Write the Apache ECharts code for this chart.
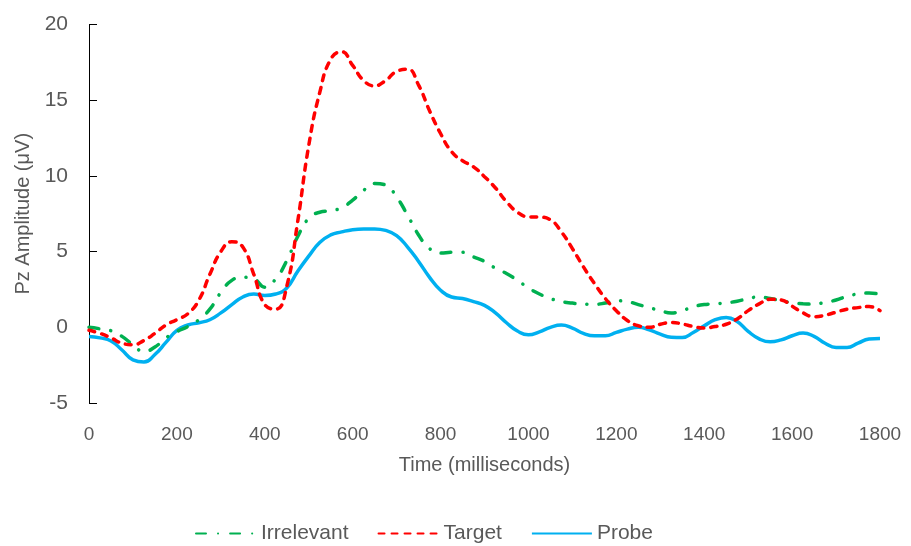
<!DOCTYPE html>
<html>
<head>
<meta charset="utf-8">
<script src="https://cdn.jsdelivr.net/npm/echarts@6/dist/echarts.min.js"></script>
<style>html,body{margin:0;padding:0;background:#fff;}#c{width:911px;height:546px;}</style>
</head>
<body>
<div id="c"></div>
<script>
// Time points (ms), every 25 ms from 0 to 1800
var timesMs = [0,25,50,75,100,125,150,175,200,225,250,275,300,325,350,375,400,425,450,475,500,525,550,575,600,625,650,675,700,725,750,775,800,825,850,875,900,925,950,975,1000,1025,1050,1075,1100,1125,1150,1175,1200,1225,1250,1275,1300,1325,1350,1375,1400,1425,1450,1475,1500,1525,1550,1575,1600,1625,1650,1675,1700,1725,1750,1775,1800];

var irrelevant = [0.0,-0.1,-0.23,-0.6,-1.15,-1.6,-1.3,-0.7,-0.28,0.05,0.5,1.2,2.3,3.1,3.3,3.2,2.65,3.2,4.4,6.0,7.2,7.6,7.7,7.9,8.4,9.05,9.5,9.4,8.6,7.4,6.1,5.2,4.9,4.95,4.95,4.65,4.35,3.9,3.55,3.1,2.6,2.2,1.9,1.7,1.6,1.53,1.52,1.6,1.75,1.7,1.5,1.3,1.1,0.95,1.1,1.35,1.5,1.55,1.62,1.72,1.9,2.0,1.9,1.75,1.62,1.55,1.53,1.65,1.8,2.05,2.2,2.26,2.2];

var target = [-0.2,-0.4,-0.7,-1.05,-1.15,-0.87,-0.4,0.15,0.5,0.9,1.8,3.5,5.0,5.65,5.3,3.5,1.5,1.2,2.7,7.0,12.0,15.5,17.7,18.2,17.3,16.3,15.95,16.3,16.9,17.05,16.0,14.3,12.8,11.6,11.0,10.6,9.95,9.2,8.3,7.6,7.3,7.28,7.1,6.3,5.2,4.0,2.9,1.9,1.1,0.45,0.1,0.0,0.2,0.32,0.22,0.05,-0.05,0.05,0.2,0.55,1.1,1.55,1.85,1.8,1.4,0.95,0.7,0.8,1.0,1.2,1.3,1.37,1.1];

var probe = [-0.6,-0.7,-0.9,-1.5,-2.15,-2.3,-1.8,-1.0,-0.2,0.15,0.3,0.5,0.95,1.5,2.0,2.2,2.1,2.2,2.6,3.7,4.7,5.6,6.1,6.3,6.45,6.5,6.5,6.4,6.05,5.3,4.35,3.3,2.45,2.0,1.9,1.7,1.45,0.95,0.3,-0.25,-0.5,-0.3,0.0,0.15,-0.05,-0.4,-0.56,-0.56,-0.34,-0.12,0.0,-0.17,-0.45,-0.65,-0.67,-0.34,0.1,0.5,0.65,0.38,-0.27,-0.76,-0.96,-0.83,-0.56,-0.38,-0.6,-1.05,-1.33,-1.33,-1.05,-0.78,-0.74];

var seriesNames = ['Irrelevant','Target','Probe'];

function pairs(vals){ return vals.map(function(v,i){ return [timesMs[i], v]; }); }

var chart = echarts.init(document.getElementById('c'), null, {renderer:'canvas'});
var txt = '#595959';
var ff = 'Liberation Sans, Arial, sans-serif';
chart.setOption({
  animation:false,
  backgroundColor:'#ffffff',
  grid:{left:89, right:31, top:24.5, bottom:143, containLabel:false},
  legend:{
    data:seriesNames,
    top:518,
    left:190,
    itemWidth:60,
    itemHeight:14,
    itemGap:29,
    itemStyle:{opacity:0},
    textStyle:{color:txt, fontSize:21, fontFamily:ff}
  },
  xAxis:{
    type:'value', min:0, max:1800, interval:200,
    name:'Time (milliseconds)', nameLocation:'middle', nameGap:52,
    nameTextStyle:{color:txt, fontSize:20, fontFamily:ff},
    axisLine:{show:false}, axisTick:{show:false}, splitLine:{show:false},
    axisLabel:{color:txt, fontSize:19, margin:22, fontFamily:ff, formatter:function(v){return String(v);}}
  },
  yAxis:{
    type:'value', min:-5, max:20, interval:5,
    name:'Pz Amplitude (μV)', nameLocation:'middle', nameGap:56,
    nameTextStyle:{color:txt, fontSize:20, fontFamily:ff},
    axisLine:{show:true, onZero:false, lineStyle:{color:'#000000', width:1}},
    axisTick:{show:true, inside:true, length:8, lineStyle:{color:'#000000'}},
    splitLine:{show:false},
    axisLabel:{color:txt, fontSize:21, margin:21, fontFamily:ff}
  },
  series:[
    {name:seriesNames[0], type:'line', data:pairs(irrelevant), smooth:0.5, symbol:'none', z:3,
     itemStyle:{color:'#00B050'},
     lineStyle:{color:'#00B050', width:3.5, type:[10,12,0.1,12], cap:'round'}},
    {name:seriesNames[1], type:'line', data:pairs(target), smooth:0.5, symbol:'none', z:4,
     itemStyle:{color:'#FF0000'},
     lineStyle:{color:'#FF0000', width:3.5, type:[6,7], cap:'round'}},
    {name:seriesNames[2], type:'line', data:pairs(probe), smooth:0.5, symbol:'none', z:2,
     itemStyle:{color:'#00B0F0'},
     lineStyle:{color:'#00B0F0', width:3.5, type:'solid'}}
  ]
});
</script>
</body>
</html>
